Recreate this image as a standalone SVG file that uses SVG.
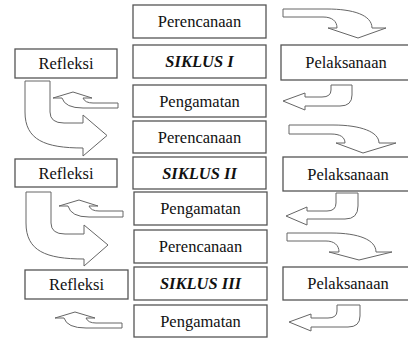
<svg xmlns="http://www.w3.org/2000/svg" width="408" height="339" viewBox="0 0 408 339">
<style>
.box{fill:#fff;stroke:#555;stroke-width:1.3}
.arr{fill:#fff;stroke:#666;stroke-width:1;stroke-linejoin:miter}
.t{font-family:"Liberation Serif","Times New Roman",serif;font-size:16.5px;fill:#111;text-anchor:middle}
.b{font-weight:bold;font-style:italic}
</style>
<rect width="408" height="339" fill="#fff"/>
<g id="connectors">
  <path class="arr" d="M283,9 L327,9 C353,9 372,15 372,28 L386,28 L358,38 L328,28 L337,28 C337,21 332,17 323,17 L283,17 Z"/>
  <path class="arr" d="M331,85 L352,85 L352,95 Q352,106 340,106 L305,106 L305,110 L283,101 L305,93 L305,97 L322,97 Q331,97 331,90 Z"/>
  <path class="arr" d="M73,92 L92,98 L83,98 Q85,103 93,103 L118,103 L118,108 L83,108 Q65,108 62,98 L53,98 Z"/>
  <path class="arr" d="M25,81 L50,81 L50,112 Q50,123 64,123 L83,123 L83,115 L107,135.5 L83,156 L83,148 C45,148 25,140 25,112 Z"/>
  <path class="arr" d="M289,125 L333,125 C361,125 379,132 379,143 L396,143 L363,153 L336,143 L345,143 C345,137 340,134 331,134 L289,134 Z"/>
  <path class="arr" d="M336,193 L358,193 L358,206 Q358,219 345,219 L307,219 L307,225 L286,216 L307,207 L307,211 L327,211 Q336,211 336,203 Z"/>
  <path class="arr" d="M79,200 L98,206 L89,206 Q91,211 99,211 L123,211 L123,217 L89,217 Q71,217 68,206 L59,206 Z"/>
  <path class="arr" d="M26,192 L51,192 L51,223 Q51,234 65,234 L84,234 L84,225 L108,245 L84,266 L84,259 C46,259 26,251 26,223 Z"/>
  <path class="arr" d="M287,233 L331,233 C359,233 376,240 376,252 L392,252 L359,260 L329,252 L339,252 C339,245 334,241 326,241 L287,241 Z"/>
  <path class="arr" d="M337,305 L360,305 L360,316 Q360,327 348,327 L311,327 L311,331 L289,322 L311,314 L311,318 L328,318 Q337,318 337,311 Z"/>
  <path class="arr" d="M75,312 L95,318 L86,318 Q88,323 96,323 L122,323 L122,328 L86,328 Q67,328 64,318 L55,318 Z"/>
</g>
<g id="perencanaan1"><rect class="box" x="133" y="5" width="133" height="33"/><text class="t" x="199.5" y="27">Perencanaan</text></g>
<g id="siklus1"><rect class="box" x="133" y="45" width="133" height="33"/><text class="t b" x="199.5" y="67">SIKLUS I</text></g>
<g id="pengamatan1"><rect class="box" x="133" y="85" width="133" height="32"/><text class="t" x="199.5" y="106.5">Pengamatan</text></g>
<g id="refleksi1"><rect class="box" x="15" y="49" width="102" height="29"/><text class="t" x="66" y="69">Refleksi</text></g>
<g id="pelaksanaan1"><rect class="box" x="281" y="45" width="132" height="35"/><text class="t" x="346" y="68">Pelaksanaan</text></g>
<g id="perencanaan2"><rect class="box" x="133" y="121" width="133" height="32"/><text class="t" x="199.5" y="142.5">Perencanaan</text></g>
<g id="siklus2"><rect class="box" x="133" y="157" width="133" height="32"/><text class="t b" x="199.5" y="178.5">SIKLUS II</text></g>
<g id="pengamatan2"><rect class="box" x="134" y="192" width="133" height="33"/><text class="t" x="200.5" y="214">Pengamatan</text></g>
<g id="refleksi2"><rect class="box" x="15" y="159" width="102" height="28"/><text class="t" x="66" y="178.5">Refleksi</text></g>
<g id="pelaksanaan2"><rect class="box" x="283" y="157" width="132" height="34"/><text class="t" x="348" y="179.5">Pelaksanaan</text></g>
<g id="perencanaan3"><rect class="box" x="134" y="230" width="133" height="33"/><text class="t" x="200.5" y="252">Perencanaan</text></g>
<g id="siklus3"><rect class="box" x="134" y="267" width="133" height="33"/><text class="t b" x="200.5" y="289">SIKLUS III</text></g>
<g id="pengamatan3"><rect class="box" x="134" y="305" width="133" height="32"/><text class="t" x="200.5" y="326.5">Pengamatan</text></g>
<g id="refleksi3"><rect class="box" x="25" y="270" width="103" height="29"/><text class="t" x="76.5" y="290">Refleksi</text></g>
<g id="pelaksanaan3"><rect class="box" x="283" y="267" width="132" height="33"/><text class="t" x="348" y="289">Pelaksanaan</text></g>
</svg>
